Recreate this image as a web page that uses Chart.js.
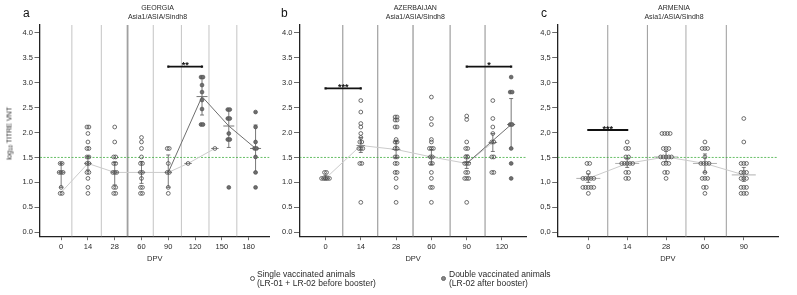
<!DOCTYPE html>
<html>
<head>
<meta charset="utf-8">
<script src="https://cdn.jsdelivr.net/npm/chart.js@4.4.1/dist/chart.umd.min.js"></script>
<style>
  body { margin: 0; background: #fff; width: 797px; height: 295px; position: relative; overflow: hidden;
         font-family: "Liberation Sans", Arial, sans-serif; color: #222; }
  canvas { position: absolute; top: 0; }
  .ttl { position: absolute; top: 2.5px; width: 200px; font-size: 7px; line-height: 9.4px; text-align: center; color: #2a2a2a; }
  .letter { position: absolute; top: 7px; font-size: 12px; line-height: 12px; color: #111; }
  .ytitle { position: absolute; left: -30px; top: 128px; width: 80px; font-size: 7px; line-height: 9px; text-align: center;
            color: #222; transform: rotate(-90deg); white-space: nowrap; }
  .ytitle sub { font-size: 5px; vertical-align: -1px; }
  .leg { position: absolute; top: 270px; font-size: 8.5px; line-height: 9.2px; color: #2a2a2a; white-space: nowrap; }
  .dot { position: absolute; border-radius: 50%; box-sizing: border-box; }
</style>
</head>
<body>
<canvas id="cA" width="276" height="266" style="left:0px"></canvas>
<canvas id="cB" width="272" height="266" style="left:260px"></canvas>
<canvas id="cC" width="273" height="266" style="left:518px"></canvas>

<div class="letter" style="left:23px">a</div>
<div class="letter" style="left:281px">b</div>
<div class="letter" style="left:541px">c</div>
<div class="ttl" style="left:57.5px">GEORGIA<br>Asia1/ASIA/Sindh8</div>
<div class="ttl" style="left:315.3px">AZERBAIJAN<br>Asia1/ASIA/Sindh8</div>
<div class="ttl" style="left:574px">ARMENIA<br>Asia1/ASIA/Sindh8</div>
<div class="ytitle">log<sub>10</sub> TITRE VNT</div>

<div class="dot" style="left:250.3px;top:276.3px;width:5px;height:5px;border:0.8px solid #555;"></div>
<div class="leg" style="left:257px">Single vaccinated animals<br>(LR-01 + LR-02 before booster)</div>
<div class="dot" style="left:440.8px;top:276.3px;width:5.2px;height:5.2px;background:#888;border:0.7px solid #666;"></div>
<div class="leg" style="left:449px">Double vaccinated animals<br>(LR-02 after booster)</div>

<script>
const FONT = '"Liberation Sans", Arial, sans-serif';
const yTicks = [0, 0.5, 1, 1.5, 2, 2.5, 3, 3.5, 4];
const threshold = 1.5;

// ---- a: Georgia ----
const daysA = ['0', '14', '28', '60', '90', '120', '150', '180'];
const singleA = [
  [1.38, 1.38, 1.2, 1.2, 1.2, 0.9, 0.78, 0.78],
  [2.11, 2.11, 1.98, 1.81, 1.68, 1.68, 1.51, 1.51, 1.38, 1.38, 1.2, 1.2, 1.08, 0.9, 0.78],
  [2.11, 1.81, 1.51, 1.51, 1.38, 1.38, 1.2, 1.2, 1.2, 0.9, 0.9, 0.78, 0.78],
  [1.9, 1.81, 1.68, 1.51, 1.38, 1.38, 1.2, 1.2, 1.08, 0.9, 0.9, 0.78, 0.78],
  [1.68, 1.68, 1.38, 1.2, 1.2, 0.9, 0.78],
  [1.38],
  [1.68],
  []
];
const doubleA = [[], [], [], [], [],
  [3.11, 3.11, 2.95, 2.81, 2.65, 2.47, 2.16, 2.16],
  [2.46, 2.46, 2.28, 2.28, 1.98, 1.86, 1.86, 0.9],
  [2.41, 2.11, 1.81, 1.68, 1.68, 1.51, 1.2, 0.9]
];
const meanSingleA = [1.2, 1.38, 1.2, 1.2, 1.2, 1.38, 1.68, null];
const loSingleA = [0.9, 1.25, 0.95, 0.98, 0.9, null, null, null];
const hiSingleA = [1.38, 1.52, 1.4, 1.42, 1.55, null, null, null];
const meanDoubleA = [null, null, null, null, null, 2.72, 2.13, 1.68];
const loDoubleA = [null, null, null, null, null, 2.35, 1.7, 1.2];
const hiDoubleA = [null, null, null, null, null, 3.08, 2.46, 2.15];
const trendSingleA = [0.8, 1.38, 1.2, 1.2, 1.2, 1.38, 1.68, null];
const trendDoubleA = [null, null, null, null, 1.2, 2.72, 2.13, 1.68];
const dividersA = [0.4, 1.5, 2.48, 3.44, 4.49, 5.52, 6.56];
const bracketsA = [{ from: [4, 'single'], to: [5, 'double'], y: 3.32, stars: '**' }];

// ---- b: Azerbaijan ----
const daysB = ['0', '14', '28', '60', '90', '120'];
const singleB = [
  [1.2, 1.2, 1.08, 1.08, 1.08, 1.08, 1.08],
  [2.64, 2.41, 2.18, 2.11, 1.98, 1.9, 1.81, 1.81, 1.68, 1.68, 1.68, 1.38, 1.38, 0.6],
  [2.31, 2.31, 2.25, 2.25, 2.11, 2.11, 1.86, 1.81, 1.81, 1.68, 1.68, 1.51, 1.51, 1.38, 1.38, 1.2, 1.2, 1.08, 0.9, 0.6],
  [2.71, 2.28, 2.16, 1.86, 1.81, 1.68, 1.68, 1.68, 1.51, 1.51, 1.38, 1.38, 1.2, 1.08, 0.9, 0.9, 0.6],
  [2.33, 2.26, 1.81, 1.68, 1.68, 1.51, 1.51, 1.38, 1.38, 1.38, 1.2, 1.2, 1.08, 1.08, 1.08, 0.6],
  [2.64, 2.28, 2.11, 1.98, 1.81, 1.81, 1.51, 1.51, 1.2, 1.2]
];
const doubleB = [[], [], [], [], [], [3.11, 2.81, 2.81, 2.16, 2.16, 1.68, 1.38, 1.08]];
const meanSingleB = [1.08, 1.74, 1.66, 1.51, 1.4, 1.8];
const loSingleB = [1.05, 1.6, 1.5, 1.36, 1.28, 1.62];
const hiSingleB = [1.14, 1.9, 1.82, 1.66, 1.55, 1.98];
const meanDoubleB = [null, null, null, null, null, 2.16];
const loDoubleB = [null, null, null, null, null, 1.68];
const hiDoubleB = [null, null, null, null, null, 2.68];
const trendSingleB = [1.08, 1.74, 1.66, 1.51, 1.38, 1.8];
const trendDoubleB = [null, null, null, null, 1.38, 2.16];
const dividersB = [0.49, 1.48, 2.48, 3.53, 4.52];
const bracketsB = [
  { from: [0, 'single'], to: [1, 'single'], y: 2.885, stars: '***' },
  { from: [4, 'single'], to: [5, 'double'], y: 3.32, stars: '*' }
];

// ---- c: Armenia ----
const daysC = ['0', '14', '28', '60', '90'];
const singleC = [
  [1.38, 1.38, 1.2, 1.08, 1.08, 1.08, 1.08, 1.08, 0.9, 0.9, 0.9, 0.9, 0.9, 0.78],
  [1.81, 1.68, 1.68, 1.51, 1.51, 1.38, 1.38, 1.38, 1.38, 1.38, 1.2, 1.2, 1.08, 1.08],
  [1.98, 1.98, 1.98, 1.98, 1.68, 1.68, 1.68, 1.51, 1.51, 1.51, 1.51, 1.51, 1.38, 1.38, 1.38, 1.2, 1.2, 1.08],
  [1.81, 1.68, 1.68, 1.68, 1.51, 1.38, 1.38, 1.38, 1.38, 1.2, 1.08, 1.08, 1.08, 0.9, 0.9, 0.78],
  [2.28, 1.81, 1.38, 1.38, 1.38, 1.2, 1.2, 1.2, 1.08, 1.08, 1.08, 0.9, 0.9, 0.9, 0.78, 0.78, 0.78]
];
const doubleC = [[], [], [], [], []];
const meanSingleC = [1.08, 1.38, 1.51, 1.38, 1.15];
const loSingleC = [1.0, 1.3, 1.42, 1.2, 1.02];
const hiSingleC = [1.17, 1.47, 1.62, 1.57, 1.3];
const meanDoubleC = [null, null, null, null, null];
const loDoubleC = [null, null, null, null, null];
const hiDoubleC = [null, null, null, null, null];
const trendSingleC = [1.08, 1.38, 1.51, 1.38, 1.15];
const trendDoubleC = [null, null, null, null, null];
const dividersC = [0.5, 1.52, 2.51, 3.55];
const bracketsC = [{ from: [0, 'single'], to: [1, 'single'], y: 2.05, stars: '***' }];

const Y_MIN = -0.084, Y_MAX = 4.154;
const SIDE = 0.26;

const panels = [
  { id: 'cA', yw: 40, xMin: -0.79, xMax: 7.78, step: 0.073, barS: 3.8, barD: 5.5, comma: false,
    divColor: '#c4c4c4', divAlt: '#a0a0a0', days: daysA, singles: singleA, doubles: doubleA,
    mS: meanSingleA, loS: loSingleA, hiS: hiSingleA, mD: meanDoubleA, loD: loDoubleA, hiD: hiDoubleA,
    tS: trendSingleA, tD: trendDoubleA, dividers: dividersA, brackets: bracketsA, barColS: '#8a8a8a' },
  { id: 'cB', yw: 39.5, xMin: -0.737, xMax: 5.70, step: 0.056, barS: 4.3, barD: 4, comma: false,
    divColor: '#8c8c8c', divAlt: '#b8b8b8', days: daysB, singles: singleB, doubles: doubleB,
    mS: meanSingleB, loS: loSingleB, hiS: hiSingleB, mD: meanDoubleB, loD: loDoubleB, hiD: hiDoubleB,
    tS: trendSingleB, tD: trendDoubleB, dividers: dividersB, brackets: bracketsB, barColS: '#8a8a8a' },
  { id: 'cC', yw: 39.7, xMin: -0.788, xMax: 4.88, step: 0.07, barS: 12, barD: 5, comma: true,
    divColor: '#9a9a9a', divAlt: '#cfcfcf', days: daysC, singles: singleC, doubles: doubleC,
    mS: meanSingleC, loS: loSingleC, hiS: hiSingleC, mD: meanDoubleC, loD: loDoubleC, hiD: hiDoubleC,
    tS: trendSingleC, tD: trendDoubleC, dividers: dividersC, brackets: bracketsC, barColS: '#b0b0b0' }
];

function groupX(p, i, kind) {
  if (kind === 'double') return i + SIDE;
  return p.doubles[i].length ? i - SIDE : i;
}

// spread identical values side by side, centred on the group position
function swarm(values, x0, step) {
  const counts = {}, seen = {};
  values.forEach(v => { counts[v] = (counts[v] || 0) + 1; });
  return values.map(v => {
    const k = seen[v] || 0;
    seen[v] = k + 1;
    return { x: x0 + (k - (counts[v] - 1) / 2) * step, y: v };
  });
}

function buildDatasets(p) {
  const ds = [];
  p.dividers.forEach((d, j) => {
    const alt = j === 2;
    ds.push({ data: [{ x: d, y: Y_MIN }, { x: d, y: Y_MAX }], showLine: true, pointRadius: 0,
      borderColor: alt ? p.divAlt : p.divColor, borderWidth: alt ? 1.8 : 1, order: 20 });
  });
  ds.push({ data: [{ x: p.xMin, y: threshold }, { x: p.xMax, y: threshold }], showLine: true, pointRadius: 0,
    borderColor: '#3fae3f', borderWidth: 0.8, borderDash: [2, 1.5], order: 19 });

  const tS = [], tD = [];
  p.tS.forEach((v, i) => { if (v != null) tS.push({ x: groupX(p, i, 'single'), y: v }); });
  p.tD.forEach((v, i) => {
    if (v != null) tD.push({ x: p.doubles[i].length ? groupX(p, i, 'double') : groupX(p, i, 'single'), y: v });
  });
  ds.push({ data: tS, showLine: true, pointRadius: 0, borderColor: '#cbcbcb', borderWidth: 1, order: 15 });
  if (tD.length) ds.push({ data: tD, showLine: true, pointRadius: 0, borderColor: '#6e6e6e', borderWidth: 1, order: 14 });

  [['single', p.loS, p.hiS], ['double', p.loD, p.hiD]].forEach(([kind, lo, hi]) => {
    lo.forEach((l, i) => {
      if (l == null) return;
      const x = groupX(p, i, kind);
      ds.push({ data: [{ x, y: l }, { x, y: hi[i] }], showLine: true, borderColor: '#555', borderWidth: 0.8,
        pointStyle: 'line', pointRadius: 2, pointBorderColor: '#555', pointBorderWidth: 0.8, order: 10 });
    });
  });

  const mS = [], mD = [];
  p.mS.forEach((v, i) => { if (v != null) mS.push({ x: groupX(p, i, 'single'), y: v }); });
  p.mD.forEach((v, i) => { if (v != null) mD.push({ x: groupX(p, i, 'double'), y: v }); });
  ds.push({ data: mS, pointStyle: 'line', pointRadius: p.barS, pointBorderColor: p.barColS, pointBorderWidth: 1, order: 9 });
  if (mD.length) ds.push({ data: mD, pointStyle: 'line', pointRadius: p.barD, pointBorderColor: '#777', pointBorderWidth: 1, order: 9 });

  const pS = [], pD = [];
  p.singles.forEach((vals, i) => pS.push(...swarm(vals, groupX(p, i, 'single'), p.step)));
  p.doubles.forEach((vals, i) => pD.push(...swarm(vals, groupX(p, i, 'double'), p.step)));
  ds.push({ data: pS, pointStyle: 'circle', pointRadius: 1.9, pointBackgroundColor: 'rgba(255,255,255,0)',
    pointBorderColor: '#4a4a4a', pointBorderWidth: 0.8, order: 2 });
  if (pD.length) ds.push({ data: pD, pointStyle: 'circle', pointRadius: 1.9, pointBackgroundColor: '#6e6e6e',
    pointBorderColor: '#505050', pointBorderWidth: 0.7, order: 1 });

  p.brackets.forEach(b => {
    ds.push({ data: [{ x: groupX(p, b.from[0], b.from[1]), y: b.y }, { x: groupX(p, b.to[0], b.to[1]), y: b.y }],
      showLine: true, borderColor: '#111', borderWidth: 1.8, pointStyle: 'rect', pointRadius: 1.5,
      pointBackgroundColor: '#111', pointBorderColor: '#111', pointBorderWidth: 0, order: 0 });
  });
  return ds;
}

function makeChart(p) {
  const stars = {
    id: 'stars',
    afterDatasetsDraw(chart) {
      const ctx = chart.ctx, xs = chart.scales.x, ys = chart.scales.y;
      ctx.save();
      ctx.font = 'bold 9px ' + FONT;
      ctx.fillStyle = '#111';
      ctx.textAlign = 'center';
      ctx.textBaseline = 'alphabetic';
      p.brackets.forEach(b => {
        const x = (xs.getPixelForValue(groupX(p, b.from[0], b.from[1])) + xs.getPixelForValue(groupX(p, b.to[0], b.to[1]))) / 2;
        ctx.fillText(b.stars, x, ys.getPixelForValue(b.y) + 1.5);
      });
      ctx.restore();
    }
  };
  const tickFont = { size: 7.5, family: FONT };
  new Chart(document.getElementById(p.id), {
    type: 'scatter',
    data: { datasets: buildDatasets(p) },
    plugins: [stars],
    options: {
      responsive: false,
      animation: false,
      events: [],
      layout: { padding: { top: 25, right: 1, bottom: 0, left: 0 } },
      plugins: { legend: { display: false }, tooltip: { enabled: false } },
      scales: {
        x: {
          type: 'linear', min: p.xMin, max: p.xMax,
          afterBuildTicks: s => { s.ticks = p.days.map((d, i) => ({ value: i })); },
          afterFit: s => { s.height = 29.5; },
          ticks: { callback: v => p.days[v], font: tickFont, color: '#2a2a2a', padding: 2.7, maxRotation: 0, autoSkip: false },
          grid: { drawOnChartArea: false, tickLength: 3.7, color: '#444', tickWidth: 0.8 },
          border: { color: '#222', width: 1.3 },
          title: { display: true, text: 'DPV', font: tickFont, color: '#2a2a2a', padding: { top: 0, bottom: 3 } }
        },
        y: {
          type: 'linear', min: Y_MIN, max: Y_MAX,
          afterBuildTicks: s => { s.ticks = yTicks.map(v => ({ value: v })); },
          afterFit: s => { s.width = p.yw; },
          ticks: { callback: v => p.comma ? v.toFixed(1).replace('.', ',') : v.toFixed(1), font: tickFont, color: '#2a2a2a', padding: 1.5 },
          grid: { drawOnChartArea: false, tickLength: 5.5, color: '#444', tickWidth: 0.8 },
          border: { color: '#222', width: 1.3 }
        }
      }
    }
  });
}

panels.forEach(makeChart);
</script>
</body>
</html>
